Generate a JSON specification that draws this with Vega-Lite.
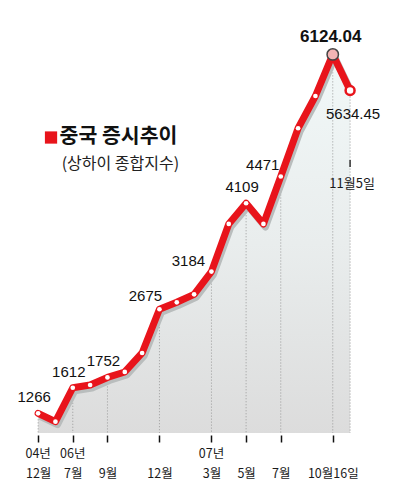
{
  "$schema": "https://vega.github.io/schema/vega-lite/v6.json",
  "width": 400,
  "height": 433,
  "autosize": "none",
  "padding": {"top": 0, "left": 0, "right": 0, "bottom": 62},
  "background": "white",
  "config": {"view": {"stroke": null}},
  "datasets": {
    "idx": [
      {"i": 0, "period": "2004-12", "v": 1266, "label": "1266", "yr": "04년"},
      {"i": 1, "period": "2005", "v": 1153},
      {"i": 2, "period": "2006-07", "v": 1612, "label": "1612", "yr": "06년"},
      {"i": 3, "period": "2006-08", "v": 1650},
      {"i": 4, "period": "2006-09", "v": 1752, "label": "1752"},
      {"i": 5, "period": "2006-10", "v": 1826},
      {"i": 6, "period": "2006-11", "v": 2083},
      {"i": 7, "period": "2006-12", "v": 2675, "label": "2675"},
      {"i": 8, "period": "2007-01", "v": 2769},
      {"i": 9, "period": "2007-02", "v": 2877},
      {"i": 10, "period": "2007-03", "v": 3184, "label": "3184", "yr": "07년"},
      {"i": 11, "period": "2007-04", "v": 3829},
      {"i": 12, "period": "2007-05", "v": 4109, "label": "4109"},
      {"i": 13, "period": "2007-06", "v": 3829},
      {"i": 14, "period": "2007-07", "v": 4471, "label": "4471"},
      {"i": 15, "period": "2007-08", "v": 5124},
      {"i": 16, "period": "2007-09", "v": 5561},
      {"i": 17, "period": "2007-10-16", "v": 6124.04, "label": "6124.04"},
      {"i": 18, "period": "2007-11-05", "v": 5634.45, "label": "5634.45"}
    ],
    "titles": [
      {"t": "중국 증시추이", "s": "(상하이 종합지수)", "tx": 1.24, "ty": 5006, "sx": 1.36, "sy": 4641, "mx": 0.744, "my": 4999}
    ]
  },
  "data": {"name": "idx"},
  "layer": [
    {
      "mark": {"type": "area", "color": {"gradient": "linear", "x1": 0, "y1": 0, "x2": 0, "y2": 1,
        "stops": [{"offset": 0, "color": "#f1f8f8"}, {"offset": 0.5, "color": "#e9eded"}, {"offset": 1, "color": "#dcdcdc"}]}},
      "encoding": {
        "x": {"field": "i", "type": "quantitative", "scale": {"domain": [-2.2, 20.88], "nice": false, "zero": false},
          "axis": {"values": [0, 2, 4, 7, 10, 12, 14, 17], "domain": false, "grid": false, "title": null,
            "ticks": true, "tickSize": 7, "tickWidth": 1.5, "tickColor": "#111", "offset": 2,
            "labelExpr": "datum.value == 0 ? '12월' : datum.value == 2 ? '7월' : datum.value == 4 ? '9월' : datum.value == 7 ? '12월' : datum.value == 10 ? '3월' : datum.value == 12 ? '5월' : datum.value == 14 ? '7월' : '10월16일'",
            "labelFont": "Noto Sans CJK KR", "labelFontSize": 12.5, "labelColor": "#1a1a1a",
            "labelPadding": 25, "labelOverlap": false, "labelFlush": false}},
        "y": {"field": "v", "type": "quantitative", "scale": {"domain": [1000, 6860], "nice": false, "zero": false}, "axis": null},
        "y2": {"datum": 1000}
      }
    },
    {
      "transform": [{"filter": "indexof([0,2,4,7,10,12,14,17,18], datum.i) >= 0"}],
      "mark": {"type": "rule", "color": "#9a9a9a", "strokeDash": [1, 2], "strokeWidth": 1},
      "encoding": {"x": {"field": "i", "type": "quantitative"}, "y": {"field": "v", "type": "quantitative"}, "y2": {"datum": 1000}}
    },
    {
      "mark": {"type": "line", "color": "#b9bdbd", "strokeWidth": 7, "strokeJoin": "round", "xOffset": 2, "yOffset": 3},
      "encoding": {"x": {"field": "i", "type": "quantitative"}, "y": {"field": "v", "type": "quantitative"}}
    },
    {
      "mark": {"type": "line", "color": "#e8141b", "strokeWidth": 7, "strokeJoin": "round", "strokeCap": "round"},
      "encoding": {"x": {"field": "i", "type": "quantitative"}, "y": {"field": "v", "type": "quantitative"}}
    },
    {
      "transform": [{"filter": "datum.i < 17"}],
      "mark": {"type": "point", "filled": true, "color": "white", "size": 22, "opacity": 1},
      "encoding": {"x": {"field": "i", "type": "quantitative"}, "y": {"field": "v", "type": "quantitative"}}
    },
    {
      "transform": [{"filter": "datum.i == 18"}],
      "mark": {"type": "point", "filled": true, "fill": "white", "stroke": "#e8141b", "strokeWidth": 2.5, "size": 80, "opacity": 1},
      "encoding": {"x": {"field": "i", "type": "quantitative"}, "y": {"field": "v", "type": "quantitative"}}
    },
    {
      "transform": [{"filter": "datum.i == 17"}],
      "mark": {"type": "point", "filled": true, "fill": "#f3b4b4", "stroke": "#444", "strokeWidth": 1.5, "size": 130, "opacity": 1},
      "encoding": {"x": {"field": "i", "type": "quantitative"}, "y": {"field": "v", "type": "quantitative"}}
    },
    {
      "transform": [{"filter": "isValid(datum.yr)"}],
      "mark": {"type": "text", "font": "Noto Sans CJK KR", "fontSize": 12.5, "color": "#1a1a1a", "baseline": "top"},
      "encoding": {"x": {"field": "i", "type": "quantitative"}, "y": {"datum": 797}, "text": {"field": "yr"}}
    },
    {
      "transform": [{"filter": "datum.i == 0 || datum.i == 2 || datum.i == 4 || datum.i == 12"}],
      "mark": {"type": "text", "font": "Liberation Sans", "fontSize": 15, "color": "#111", "dx": -4, "dy": -16},
      "encoding": {"x": {"field": "i", "type": "quantitative"}, "y": {"field": "v", "type": "quantitative"}, "text": {"field": "label"}}
    },
    {
      "transform": [{"filter": "datum.i == 7"}],
      "mark": {"type": "text", "font": "Liberation Sans", "fontSize": 15, "color": "#111", "dx": -14, "dy": -13},
      "encoding": {"x": {"field": "i", "type": "quantitative"}, "y": {"field": "v", "type": "quantitative"}, "text": {"field": "label"}}
    },
    {
      "transform": [{"filter": "datum.i == 14"}],
      "mark": {"type": "text", "font": "Liberation Sans", "fontSize": 15, "color": "#111", "dx": -18, "dy": -12},
      "encoding": {"x": {"field": "i", "type": "quantitative"}, "y": {"field": "v", "type": "quantitative"}, "text": {"field": "label"}}
    },
    {
      "transform": [{"filter": "datum.i == 10"}],
      "mark": {"type": "text", "font": "Liberation Sans", "fontSize": 15, "color": "#111", "dx": -23, "dy": -11},
      "encoding": {"x": {"field": "i", "type": "quantitative"}, "y": {"field": "v", "type": "quantitative"}, "text": {"field": "label"}}
    },
    {
      "transform": [{"filter": "datum.i == 17"}],
      "mark": {"type": "text", "font": "Liberation Sans", "fontSize": 17, "fontWeight": "bold", "color": "#111", "dx": -2, "dy": -17},
      "encoding": {"x": {"field": "i", "type": "quantitative"}, "y": {"field": "v", "type": "quantitative"}, "text": {"field": "label"}}
    },
    {
      "transform": [{"filter": "datum.i == 18"}],
      "mark": {"type": "text", "font": "Liberation Sans", "fontSize": 15, "color": "#111", "dx": 3, "dy": 23},
      "encoding": {"x": {"field": "i", "type": "quantitative"}, "y": {"field": "v", "type": "quantitative"}, "text": {"field": "label"}}
    },
    {
      "transform": [{"filter": "datum.i == 18"}],
      "mark": {"type": "text", "font": "Noto Sans CJK KR", "fontSize": 13, "color": "#1a1a1a", "dx": 2, "dy": 93},
      "encoding": {"x": {"field": "i", "type": "quantitative"}, "y": {"field": "v", "type": "quantitative"}, "text": {"value": "11월5일"}}
    },
    {
      "transform": [{"filter": "datum.i == 18"}],
      "mark": {"type": "rule", "color": "#333", "strokeWidth": 1.5},
      "encoding": {"x": {"field": "i", "type": "quantitative"}, "y": {"datum": 4695}, "y2": {"datum": 4600}}
    },
    {
      "data": {"name": "titles"},
      "mark": {"type": "point", "shape": "square", "filled": true, "color": "#e8141b", "size": 150, "opacity": 1},
      "encoding": {"x": {"field": "mx", "type": "quantitative"}, "y": {"field": "my", "type": "quantitative"}}
    },
    {
      "data": {"name": "titles"},
      "mark": {"type": "text", "align": "left", "baseline": "middle", "font": "Noto Sans CJK KR", "fontSize": 20.5, "fontWeight": "bold", "color": "#111"},
      "encoding": {"x": {"field": "tx", "type": "quantitative"}, "y": {"field": "ty", "type": "quantitative"}, "text": {"field": "t"}}
    },
    {
      "data": {"name": "titles"},
      "mark": {"type": "text", "align": "left", "baseline": "middle", "font": "Noto Sans CJK KR", "fontSize": 16, "color": "#222"},
      "encoding": {"x": {"field": "sx", "type": "quantitative"}, "y": {"field": "sy", "type": "quantitative"}, "text": {"field": "s"}}
    }
  ]
}
